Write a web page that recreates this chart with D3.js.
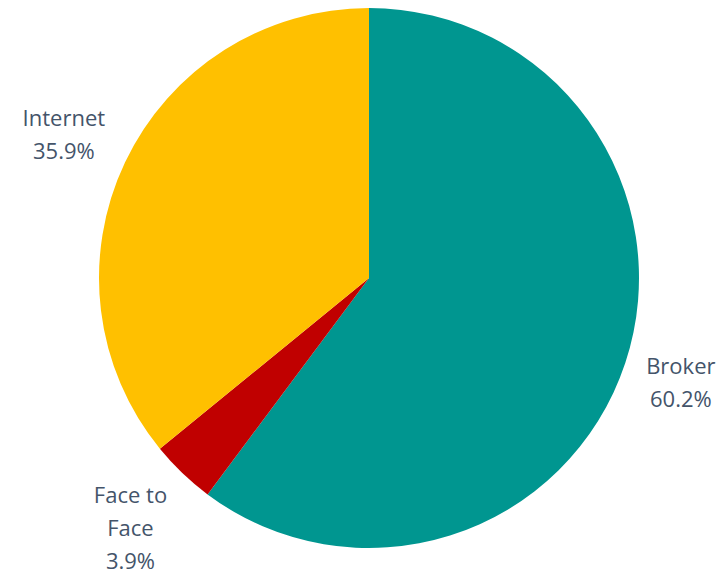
<!DOCTYPE html>
<html><head><meta charset="utf-8">
<script src="https://cdn.jsdelivr.net/npm/d3@7"></script>
<style>body{margin:0;background:#fff;}</style>
</head><body>
<svg id="c" width="724" height="580"></svg>
<script>
const categories = ["Broker", "Face to Face", "Internet"];
const labelLines = [["Broker"], ["Face to", "Face"], ["Internet"]];
const values = [60.2, 3.9, 35.9];
const colors = ["#009690", "#C00000", "#FFC000"];

const svg = d3.select("#c");
const cx = 369, cy = 278, r = 270;
const g = svg.append("g").attr("transform", `translate(${cx},${cy})`);
const data = categories.map((c, i) => ({cat: c, value: values[i], lines: labelLines[i], color: colors[i]}));
const pie = d3.pie().value(d => d.value).sort(null);
const arc = d3.arc().innerRadius(0).outerRadius(r);
const arcs = pie(data);
g.selectAll("path").data(arcs).join("path").attr("d", arc).attr("fill", d => d.data.color);

const lh = 33, gap = 22;
arcs.forEach(a => {
  const lines = a.data.lines.concat([a.data.value.toFixed(1) + "%"]);
  const t = g.append("text").attr("font-family", "'Open Sans', sans-serif").attr("font-size", 22)
    .attr("fill", "#44546A").attr("text-anchor", "middle");
  lines.forEach((l, i) => t.append("tspan").attr("x", 0).attr("dy", i === 0 ? 0 : lh).text(l));
  const bb = t.node().getBBox();
  const mid = (a.startAngle + a.endAngle) / 2;
  const ux = Math.sin(mid), uy = -Math.cos(mid);
  const w = bb.width, h = lines.length * lh;
  const ext = Math.min(Math.abs(ux) > 1e-6 ? w / 2 / Math.abs(ux) : Infinity, Math.abs(uy) > 1e-6 ? h / 2 / Math.abs(uy) : Infinity);
  const d = r + gap + ext;
  const px = ux * d, py = uy * d;
  const top = py - h / 2;
  t.attr("transform", `translate(${px},${top + lh * 0.78})`);
});
</script>
</body></html>
